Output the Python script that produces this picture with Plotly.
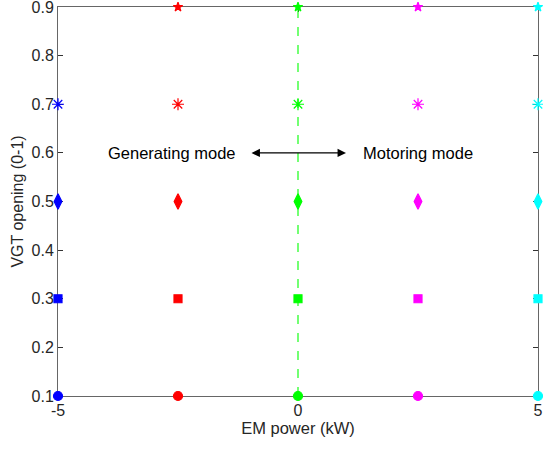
import plotly.graph_objects as go

em_power = [-5, -2.5, 0, 2.5, 5]
colors = ["#0000ff", "#ff0000", "#00ff00", "#ff00ff", "#00ffff"]
vgt_opening = [0.1, 0.3, 0.5, 0.7, 0.9]
symbols = ["circle", "square", "diamond-tall", "asterisk-open", "star"]
marker_sizes = [9, 8, 11, 10, 7]
# number of VGT levels visible per EM power series (blue star at 0.9 not shown)
levels_shown = [4, 5, 5, 5, 5]
x_ticks = [-5, 0, 5]
y_ticks = [0.1, 0.2, 0.3, 0.4, 0.5, 0.6, 0.7, 0.8, 0.9]

fig = go.Figure()

fig.add_trace(go.Scatter(
    x=[0, 0], y=[vgt_opening[0], vgt_opening[-1]], mode="lines",
    line=dict(color="#00ff00", width=1.1, dash="dash"),
    cliponaxis=False, showlegend=False, hoverinfo="skip"))

for xv, col, n in zip(em_power, colors, levels_shown):
    for yv, sym, sz in list(zip(vgt_opening, symbols, marker_sizes))[:n]:
        fig.add_trace(go.Scatter(
            x=[xv], y=[yv], mode="markers", cliponaxis=False,
            marker=dict(symbol=sym, size=sz, color=col,
                        line=dict(color=col, width=1.2)),
            showlegend=False))

axis_common = dict(
    showline=True, linecolor="#666666", linewidth=1, mirror="ticks",
    ticks="inside", ticklen=5, tickcolor="#333333", showgrid=False,
    zeroline=False, layer="below traces", ticklabeloverflow="allow",
    automargin=False,
    tickfont=dict(family="Liberation Sans, Arial", size=16, color="#262626"),
)

fig.update_layout(
    width=543, height=450,
    margin=dict(l=58, r=5, t=7, b=54),
    plot_bgcolor="white", paper_bgcolor="white",
    font=dict(family="Liberation Sans, Arial", size=16, color="#262626"),
    xaxis=dict(range=[-5, 5], tickvals=x_ticks, ticktext=[str(v) for v in x_ticks],
               title=dict(text="EM power (kW)", standoff=4,
                          font=dict(size=16.5, color="#262626")),
               **axis_common),
    yaxis=dict(range=[0.1, 0.9], tickvals=y_ticks,
               ticktext=[f"{v:.1f}" for v in y_ticks],
               title=dict(text="VGT opening (0-1)", standoff=3,
                          font=dict(size=16, color="#262626")),
               **axis_common),
)

fig.add_annotation(x=1.0, y=0.6, ax=-1.0, ay=0.6, xref="x", yref="y",
                   axref="x", ayref="y", text="", showarrow=True,
                   arrowhead=2, arrowside="end+start", arrowsize=1.3,
                   arrowwidth=1.3, arrowcolor="black")
fig.add_annotation(x=-1.25, y=0.6, xref="x", yref="y", text="Generating mode",
                   showarrow=False, xanchor="right",
                   font=dict(size=16.5, color="black"))
fig.add_annotation(x=1.31, y=0.6, xref="x", yref="y", text="Motoring mode",
                   showarrow=False, xanchor="left",
                   font=dict(size=16.5, color="black"))

fig.write_html("out.html")
